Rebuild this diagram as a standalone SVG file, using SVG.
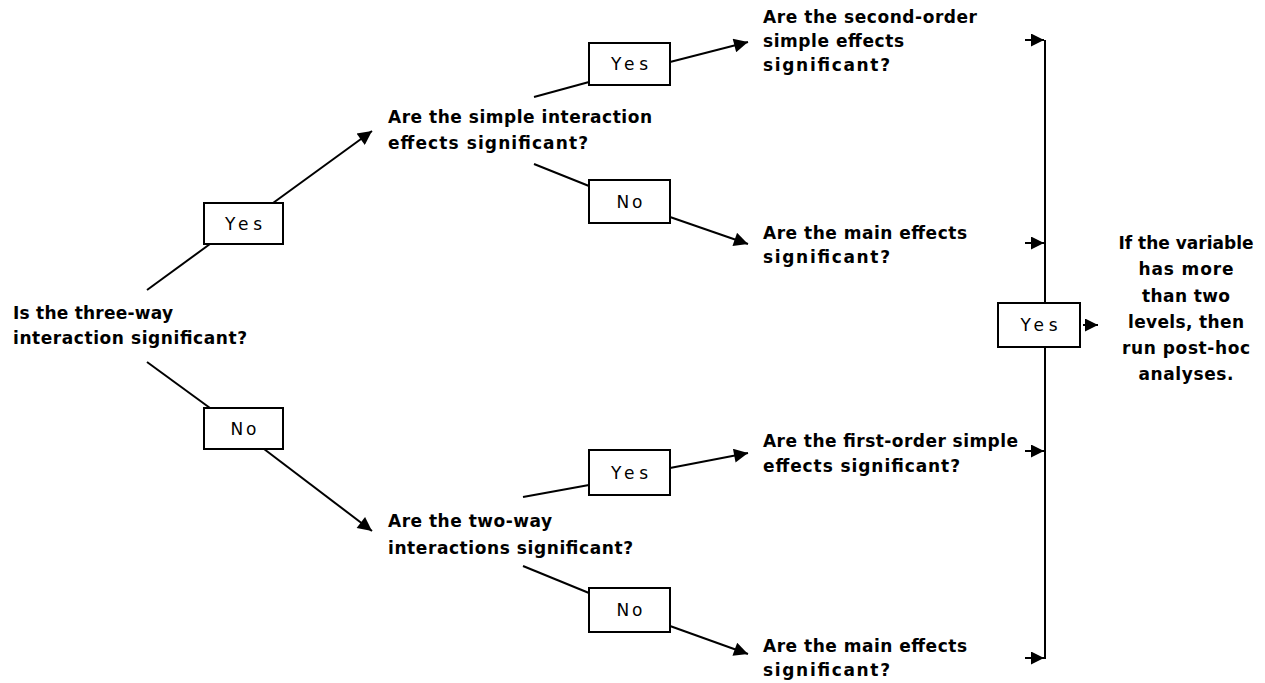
<svg xmlns="http://www.w3.org/2000/svg" width="1265" height="683" viewBox="0 0 1265 683">
<style>
.q{font-family:"DejaVu Sans",Verdana,sans-serif;font-size:17px;font-weight:bold;fill:#000}
.c{text-anchor:middle}
.lbl{font-family:"DejaVu Sans",Verdana,sans-serif;font-size:17px;fill:#000;text-anchor:middle}
.box{fill:#fff;stroke:#000;stroke-width:2}
.ln{stroke:#000;stroke-width:2;fill:none}
</style>
<defs>
<marker id="ah" viewBox="0 0 10 10" refX="10" refY="5" markerWidth="8" markerHeight="7" markerUnits="strokeWidth" orient="auto">
<path d="M0,0 L10,5 L0,10 z" fill="#000"/>
</marker>
<marker id="sh" viewBox="0 0 10 10" refX="10" refY="5" markerWidth="6.5" markerHeight="6.5" markerUnits="strokeWidth" orient="auto">
<path d="M0,0 L10,5 L0,10 z" fill="#000"/>
</marker>
</defs>
<g id="connectors">
<line class="ln" x1="147" y1="290" x2="210" y2="244"/>
<line class="ln" x1="273" y1="203" x2="372" y2="131" marker-end="url(#ah)"/>
<line class="ln" x1="147" y1="362" x2="210" y2="408"/>
<line class="ln" x1="264" y1="449" x2="372" y2="531" marker-end="url(#ah)"/>
<line class="ln" x1="534" y1="97" x2="589" y2="82"/>
<line class="ln" x1="670" y1="62" x2="748" y2="42" marker-end="url(#ah)"/>
<line class="ln" x1="534" y1="164" x2="589" y2="186"/>
<line class="ln" x1="670" y1="217" x2="748" y2="244" marker-end="url(#ah)"/>
<line class="ln" x1="523" y1="497" x2="589" y2="485"/>
<line class="ln" x1="670" y1="468" x2="748" y2="453" marker-end="url(#ah)"/>
<line class="ln" x1="523" y1="566" x2="589" y2="593"/>
<line class="ln" x1="670" y1="626" x2="748" y2="654" marker-end="url(#ah)"/>
<line class="ln" x1="1045" y1="40" x2="1045" y2="659"/>
<line class="ln" x1="1025" y1="40" x2="1044" y2="40" marker-end="url(#sh)"/>
<line class="ln" x1="1025" y1="243" x2="1044" y2="243" marker-end="url(#sh)"/>
<line class="ln" x1="1025" y1="451" x2="1044" y2="451" marker-end="url(#sh)"/>
<line class="ln" x1="1025" y1="658" x2="1044" y2="658" marker-end="url(#sh)"/>
<line class="ln" x1="1083" y1="325" x2="1098" y2="325" marker-end="url(#sh)"/>
</g>
<g id="q1"><text class="q" x="13" y="319" textLength="160" lengthAdjust="spacing">Is the three-way</text><text class="q" x="13" y="344" textLength="234" lengthAdjust="spacing">interaction significant?</text></g>
<g id="yes1"><rect class="box" x="204" y="203" width="79" height="41"/><text class="lbl" x="243.5" y="230" textLength="37" lengthAdjust="spacing">Yes</text></g>
<g id="no1"><rect class="box" x="204" y="408" width="79" height="41"/><text class="lbl" x="243.5" y="435" textLength="26" lengthAdjust="spacing">No</text></g>
<g id="q2"><text class="q" x="388" y="123" textLength="264" lengthAdjust="spacing">Are the simple interaction</text><text class="q" x="388" y="149" textLength="200" lengthAdjust="spacing">effects significant?</text></g>
<g id="q3"><text class="q" x="388" y="527" textLength="164" lengthAdjust="spacing">Are the two-way</text><text class="q" x="388" y="554" textLength="245" lengthAdjust="spacing">interactions significant?</text></g>
<g id="yes2"><rect class="box" x="589" y="43" width="81" height="42"/><text class="lbl" x="629.5" y="70" textLength="37" lengthAdjust="spacing">Yes</text></g>
<g id="no2"><rect class="box" x="589" y="180" width="81" height="43"/><text class="lbl" x="629.5" y="208" textLength="26" lengthAdjust="spacing">No</text></g>
<g id="yes3"><rect class="box" x="589" y="450" width="81" height="45"/><text class="lbl" x="629.5" y="479" textLength="37" lengthAdjust="spacing">Yes</text></g>
<g id="no3"><rect class="box" x="589" y="588" width="81" height="44"/><text class="lbl" x="629.5" y="616" textLength="26" lengthAdjust="spacing">No</text></g>
<g id="q4"><text class="q" x="763" y="23" textLength="214" lengthAdjust="spacing">Are the second-order</text><text class="q" x="763" y="47" textLength="141" lengthAdjust="spacing">simple effects</text><text class="q" x="763" y="71" textLength="127" lengthAdjust="spacing">significant?</text></g>
<g id="q5"><text class="q" x="763" y="239" textLength="204" lengthAdjust="spacing">Are the main effects</text><text class="q" x="763" y="263" textLength="127" lengthAdjust="spacing">significant?</text></g>
<g id="q6"><text class="q" x="763" y="447" textLength="255" lengthAdjust="spacing">Are the first-order simple</text><text class="q" x="763" y="472" textLength="197" lengthAdjust="spacing">effects significant?</text></g>
<g id="q7"><text class="q" x="763" y="652" textLength="204" lengthAdjust="spacing">Are the main effects</text><text class="q" x="763" y="676" textLength="127" lengthAdjust="spacing">significant?</text></g>
<g id="yes4"><rect class="box" x="998" y="303" width="82" height="44"/><text class="lbl" x="1039" y="331" textLength="37" lengthAdjust="spacing">Yes</text></g>
<g id="result"><text class="q c" x="1186" y="249" textLength="135" lengthAdjust="spacing">If the variable</text><text class="q c" x="1186" y="275" textLength="95" lengthAdjust="spacing">has more</text><text class="q c" x="1186" y="302" textLength="88" lengthAdjust="spacing">than two</text><text class="q c" x="1186" y="328" textLength="116" lengthAdjust="spacing">levels, then</text><text class="q c" x="1186" y="354" textLength="128" lengthAdjust="spacing">run post-hoc</text><text class="q c" x="1186" y="380" textLength="95" lengthAdjust="spacing">analyses.</text></g>
</svg>
